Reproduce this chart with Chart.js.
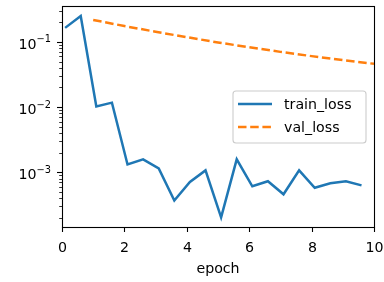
<!DOCTYPE html>
<html>
<head>
<meta charset="utf-8">
<script src="https://cdn.jsdelivr.net/npm/chart.js@4"></script>
<style>
  body { margin: 0; background: #fff; }
  canvas { display: block; }
</style>
</head>
<body>
<canvas id="lossChart" width="384" height="282"></canvas>
<script>
const trainEpochs = [0.1, 0.6, 1.1, 1.6, 2.1, 2.6, 3.1, 3.6, 4.1, 4.6, 5.1, 5.6, 6.1, 6.6, 7.1, 7.6, 8.1, 8.6, 9.1, 9.6];
const trainLoss = [0.164, 0.25, 0.0102, 0.0117, 0.00132, 0.00158, 0.00115, 0.00037, 0.00071, 0.00107,
                   0.000204, 0.00158, 0.00061, 0.00073, 0.00046, 0.00107, 0.00058, 0.00068, 0.00073, 0.00063];
const valEpochs = [1, 2, 3, 4, 5, 6, 7, 8, 9, 10];
const valLoss = [0.217, 0.175, 0.143, 0.118, 0.098, 0.0826, 0.0703, 0.0605, 0.0525, 0.0461];

const xTicks = [0, 2, 4, 6, 8, 10];
const yMajorExps = [-3, -2, -1];
const seriesNames = ["train_loss", "val_loss"];

const FONT = '"DejaVu Sans", sans-serif';
const BLUE = "#1f77b4";
const ORANGE = "#ff7f0e";
const DASH = [8.5, 3.7];

function supLabel(ctx, exp, xRight, y) {
  const sup = "\u2212" + Math.abs(exp);
  ctx.font = "9.8px " + FONT;
  const wSup = ctx.measureText(sup).width;
  ctx.font = "14.2px " + FONT;
  const wBase = ctx.measureText("10").width;
  ctx.textAlign = "left";
  ctx.textBaseline = "alphabetic";
  ctx.fillText("10", xRight - wSup - wBase, y + 7);
  ctx.font = "9.8px " + FONT;
  ctx.fillText(sup, xRight - wSup, y + 0.5);
}

const axesPlugin = {
  id: "mplAxes",
  afterDraw(chart) {
    const ctx = chart.ctx;
    const a = chart.chartArea;
    const xs = chart.scales.x;
    const ys = chart.scales.y;
    ctx.save();
    ctx.strokeStyle = "#000";
    ctx.fillStyle = "#000";
    ctx.lineWidth = 1.1;

    // frame
    ctx.strokeRect(Math.round(a.left) + 0.5, Math.round(a.top) + 0.5,
                   Math.round(a.right - a.left), Math.round(a.bottom - a.top));

    // x ticks
    ctx.font = "14.2px " + FONT;
    ctx.textAlign = "center";
    ctx.textBaseline = "alphabetic";
    xTicks.forEach(v => {
      const px = Math.round(xs.getPixelForValue(v)) + 0.5;
      ctx.beginPath();
      ctx.moveTo(px, a.bottom);
      ctx.lineTo(px, a.bottom + 5);
      ctx.stroke();
      ctx.fillText(String(v), px, a.bottom + 25);
    });
    ctx.fillText("epoch", (a.left + a.right) / 2, a.bottom + 46);

    // y ticks (log, with minors)
    for (let e = -4; e <= 0; e++) {
      for (let m = 1; m <= 9; m++) {
        const v = m * Math.pow(10, e);
        if (v < ys.min || v > ys.max) continue;
        const py = Math.round(ys.getPixelForValue(v)) + 0.5;
        const len = m === 1 ? 5 : 2.8;
        ctx.lineWidth = m === 1 ? 1.1 : 0.8;
        ctx.beginPath();
        ctx.moveTo(a.left, py);
        ctx.lineTo(a.left - len, py);
        ctx.stroke();
      }
    }
    yMajorExps.forEach(e => {
      const py = ys.getPixelForValue(Math.pow(10, e));
      supLabel(ctx, e, a.left - 11, py);
    });

    // legend
    const lx = 233, ly = 91, lw = 133, lh = 52, r = 3;
    ctx.beginPath();
    ctx.moveTo(lx + r, ly);
    ctx.arcTo(lx + lw, ly, lx + lw, ly + lh, r);
    ctx.arcTo(lx + lw, ly + lh, lx, ly + lh, r);
    ctx.arcTo(lx, ly + lh, lx, ly, r);
    ctx.arcTo(lx, ly, lx + lw, ly, r);
    ctx.closePath();
    ctx.fillStyle = "rgba(255,255,255,0.8)";
    ctx.fill();
    ctx.strokeStyle = "#cccccc";
    ctx.lineWidth = 1.1;
    ctx.stroke();

    const rows = [
      { name: seriesNames[0], color: BLUE, dash: [], y: 104 },
      { name: seriesNames[1], color: ORANGE, dash: DASH, y: 127 }
    ];
    rows.forEach(row => {
      ctx.strokeStyle = row.color;
      ctx.lineWidth = 2.5;
      ctx.setLineDash(row.dash);
      ctx.beginPath();
      ctx.moveTo(238, row.y);
      ctx.lineTo(272, row.y);
      ctx.stroke();
      ctx.setLineDash([]);
      ctx.fillStyle = "#000";
      ctx.font = "14.2px " + FONT;
      ctx.textAlign = "left";
      ctx.textBaseline = "alphabetic";
      ctx.fillText(row.name, 284, row.y + 5);
    });
    ctx.restore();
  }
};

new Chart(document.getElementById("lossChart"), {
  type: "line",
  data: {
    datasets: [
      {
        label: seriesNames[0],
        data: trainEpochs.map((x, i) => ({ x: x, y: trainLoss[i] })),
        borderColor: BLUE,
        borderWidth: 2.5,
        pointRadius: 0,
        tension: 0
      },
      {
        label: seriesNames[1],
        data: valEpochs.map((x, i) => ({ x: x, y: valLoss[i] })),
        borderColor: ORANGE,
        borderWidth: 2.5,
        borderDash: DASH,
        pointRadius: 0,
        tension: 0
      }
    ]
  },
  options: {
    responsive: false,
    animation: false,
    layout: { padding: { left: 62, right: 10, top: 6, bottom: 55 } },
    plugins: { legend: { display: false }, tooltip: { enabled: false } },
    scales: {
      x: { type: "linear", min: 0, max: 10, display: false },
      y: { type: "logarithmic", min: 1.45e-4, max: 0.355, display: false }
    }
  },
  plugins: [axesPlugin]
});
</script>
</body>
</html>
